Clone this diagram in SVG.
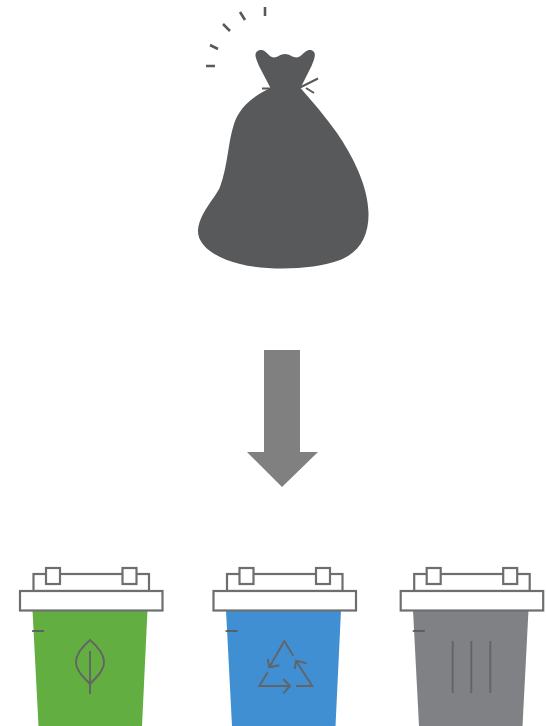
<svg xmlns="http://www.w3.org/2000/svg" width="546" height="726" viewBox="0 0 546 726">
<style>
.ln{fill:none;stroke:#58595b;stroke-width:2.600}
.tie{fill:none;stroke:#58595b;stroke-width:2}
.lid{fill:#fff;stroke:#6d6e70;stroke-width:2.200}
.sym{fill:none;stroke:#636466;stroke-width:1.900}
</style>
<defs>
<g id="bin-top">
<rect class="lid" x="33.500" y="574" width="115.500" height="17"/>
<rect class="lid" x="46" y="568" width="14" height="16"/>
<rect class="lid" x="122.500" y="568" width="14" height="16"/>
<rect class="lid" x="20" y="591" width="142.500" height="19.500"/>
<path d="M32 631H44" stroke="#58595b" stroke-width="1.700" fill="none"/>
</g>
</defs>
<rect width="546" height="726" fill="#fff"/>
<g id="bag">
<path fill="#58595b" d="M255.500 56C255 51 260 49 263.500 50.500C267 52 269.500 57 273.500 57.500C277.500 57.500 280.500 54 285 54C289.500 54 292.500 57.500 297 57.500C301 57 303.500 52 307.500 50.500C311 49 315.500 51 314.800 56C314.500 59 313 62 311.500 66L300.500 88C312 101 325 116 337 133C352 155 368 185 368.500 213C369 235 360 252 340 260C312 271 262 270 240 264C215 258 197 245 198 230C200 212 214 200 220 187C228 165 228 142 234 124C240 105 256 95 270.500 88L259 66C257.500 62 256 59 255.500 56Z"/>
<path class="tie" d="M262 88.500H271M300 87.500L318 78.500M306 88L314 93"/>
<path class="ln" d="M265 7V16M240 12L245 20M223 24L230 31M210 45L218 49M206 66H215"/>
</g>
<g id="arrow">
<path fill="#808080" d="M264 350H300V452H318L282 487L247 452H264Z"/>
</g>
<g id="green-bin">
<path fill="#62ae41" d="M32.500 610H147.500L142 726H38.500Z"/>
<use href="#bin-top"/>
<path class="sym" d="M90 640C83 646 76 654 76 662C76 670 83 677 90 684C97 677 104 670 104 662C104 654 97 646 90 640ZM90 651V694"/>
</g>
<g id="blue-bin">
<path fill="#3f8fd2" d="M226 610H341L335.500 726H232Z"/>
<use href="#bin-top" x="193.500"/>
<path class="sym" d="M293.300 655.700L284.300 641L269.300 667.300M267.700 659L269.300 667.300L279.300 665.300M267.700 672.300L259.300 686H290M283.300 679L290 686L283.300 693.300M296 686H312.300L296 660.700M294.700 669L296 660.700L306.700 663.300"/>
</g>
<g id="gray-bin">
<path fill="#808184" d="M413 610H528.500L522.500 726H419Z"/>
<use href="#bin-top" x="380.700"/>
<path class="sym" d="M452.700 641V693M471.300 641V693M490.300 641V693"/>
</g>
<g id="connectors"></g>
</svg>
